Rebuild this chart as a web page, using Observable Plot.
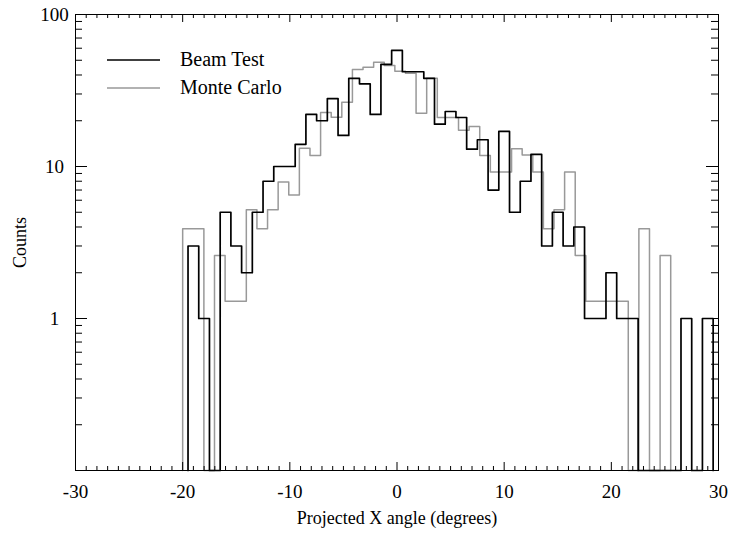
<!DOCTYPE html>
<html>
<head>
<meta charset="utf-8">
<script src="https://cdn.jsdelivr.net/npm/d3@7"></script>
<script src="https://cdn.jsdelivr.net/npm/@observablehq/plot@0.6"></script>
<style>
  body { margin: 0; background: #fff; }
  #wrap { position: relative; width: 732px; height: 542px; font-family: "Liberation Serif", serif; }
  #legend { position: absolute; left: 0; top: 0; pointer-events: none; }
</style>
</head>
<body>
<div id="wrap"></div>
<script>
// Beam Test histogram: bin centres (degrees) and counts, bins 1 degree wide
const beamAngles = [-19, -18, -17, -16, -15, -14, -13, -12, -11, -10,
  -9, -8, -7, -6, -5, -4, -3, -2, -1, 0,
  1, 2, 3, 4, 5, 6, 7, 8, 9, 10,
  11, 12, 13, 14, 15, 16, 17, 18, 19, 20,
  21, 22, 23, 24, 25, 26, 27, 28, 29];
const beamCounts = [3, 1, 0, 5, 3, 2, 5, 8, 10, 10,
  14, 22, 20, 28, 16, 38, 35, 22, 47, 58,
  42, 42, 38, 19, 23, 21, 13, 15, 7, 17,
  5, 8, 12, 3, 5, 3, 4, 1, 1, 2,
  1, 1, 0, 0, 0, 0, 1, 0, 1];
const beamBinWidth = 1;

// Monte Carlo histogram (normalised): first bin edge, bin width, values
const mcFirstEdge = -20;
const mcBinWidth = 0.99;
const mcCounts = [3.9, 3.9, 0, 2.6, 1.3, 1.3, 5.2, 3.9, 5.2, 7.9,
  6.5, 13.2, 11.8, 22.7, 21.1, 26.5, 43.5, 45.0, 48.6, 46.2,
  42.4, 41.1, 22.4, 38.1, 21.0, 21.0, 17.3, 18.3, 11.8, 9.2,
  9.2, 13.1, 11.9, 9.2, 3.9, 5.2, 9.2, 2.6, 1.3, 1.3,
  1.3, 1.3, 0, 3.9, 0, 2.6];

// Axis ticks
const xMajorTicks = [-30, -20, -10, 0, 10, 20, 30];
const xMinorTicks = d3.range(-30, 31).filter(v => v % 10 !== 0);
const yMajorTicks = [1, 10, 100];
const yMinorTicks = [0.2, 0.3, 0.4, 0.5, 0.6, 0.7, 0.8, 0.9,
  2, 3, 4, 5, 6, 7, 8, 9, 20, 30, 40, 50, 60, 70, 80, 90];
const yLabelTicks = [1, 10, 100];
const yDomain = [0.1, 100];
const xDomain = [-30, 30];

const series = ["Beam Test", "Monte Carlo"];
const colors = ["#000000", "#999999"];

const W = 732, H = 542;
const mL = 75, mR = 14, mT = 14, mB = 72;
const plotW = W - mL - mR, plotH = H - mT - mB;
const floor = yDomain[0];

function stepPoints(lefts, width, counts) {
  const pts = [{x: lefts[0], y: floor}];
  counts.forEach((c, i) => pts.push({x: lefts[i], y: c > 0 ? c : floor}));
  pts.push({x: lefts[lefts.length - 1] + width, y: floor});
  return pts;
}

const beamLefts = beamAngles.map(a => a - beamBinWidth / 2);
const mcLefts = mcCounts.map((_, i) => mcFirstEdge + i * mcBinWidth);
const beamPts = stepPoints(beamLefts, beamBinWidth, beamCounts);
const mcPts = stepPoints(mcLefts, mcBinWidth, mcCounts);

const font = {fontFamily: "Liberation Serif, serif", fontSize: "19px"};

const chart = Plot.plot({
  width: W, height: H,
  marginLeft: mL, marginRight: mR, marginTop: mT, marginBottom: mB,
  style: {...font, background: "#fff", color: "#000"},
  x: {type: "linear", domain: xDomain},
  y: {type: "log", domain: yDomain},
  marks: [
    Plot.line(mcPts, {x: "x", y: "y", curve: "step-after", stroke: colors[1], strokeWidth: 1.5}),
    Plot.line(beamPts, {x: "x", y: "y", curve: "step-after", stroke: colors[0], strokeWidth: 1.7}),
    // inward ticks
    Plot.ruleX(xMinorTicks, {x: d => d, insetTop: plotH - 4, stroke: "#000"}),
    Plot.ruleX(xMajorTicks, {x: d => d, insetTop: plotH - 8, stroke: "#000"}),
    Plot.ruleX(xMinorTicks, {x: d => d, insetBottom: plotH - 4, stroke: "#000"}),
    Plot.ruleX(xMajorTicks, {x: d => d, insetBottom: plotH - 8, stroke: "#000"}),
    Plot.ruleY(yMinorTicks, {y: d => d, insetRight: plotW - 7, stroke: "#000"}),
    Plot.ruleY(yMajorTicks, {y: d => d, insetRight: plotW - 12, stroke: "#000"}),
    Plot.ruleY(yMinorTicks, {y: d => d, insetLeft: plotW - 7, stroke: "#000"}),
    Plot.ruleY(yMajorTicks, {y: d => d, insetLeft: plotW - 12, stroke: "#000"}),
    Plot.frame({stroke: "#000", strokeWidth: 1}),
    Plot.axisX({ticks: xMajorTicks, tickSize: 0, tickPadding: 14, tickFormat: d => String(d), label: null, fill: "#000"}),
    Plot.axisY({ticks: yLabelTicks, tickSize: 0, tickPadding: 21, textAnchor: "middle", tickFormat: d => String(d), label: null, fill: "#000"}),
    Plot.text(["Projected X angle (degrees)"], {frameAnchor: "bottom", dy: 53, fill: "#000", fontSize: 18}),
    Plot.text(["Counts"], {frameAnchor: "left", dx: -55, rotate: -90, textAnchor: "middle", fill: "#000", fontSize: 18})
  ]
});

const wrap = document.getElementById("wrap");
wrap.appendChild(chart);

// Legend drawn as an overlay inside the plot frame
const legend = d3.select(wrap).append("svg")
  .attr("id", "legend").attr("width", W).attr("height", H);
series.forEach((name, i) => {
  const yy = 60 + i * 28;
  legend.append("line").attr("x1", 107).attr("x2", 160).attr("y1", yy).attr("y2", yy)
    .attr("stroke", colors[i]).attr("stroke-width", i === 0 ? 1.7 : 1.5);
  legend.append("text").attr("x", 180).attr("y", yy + 6)
    .attr("font-family", "Liberation Serif, serif").attr("font-size", 20)
    .attr("fill", "#000").text(name);
});
</script>
</body>
</html>
